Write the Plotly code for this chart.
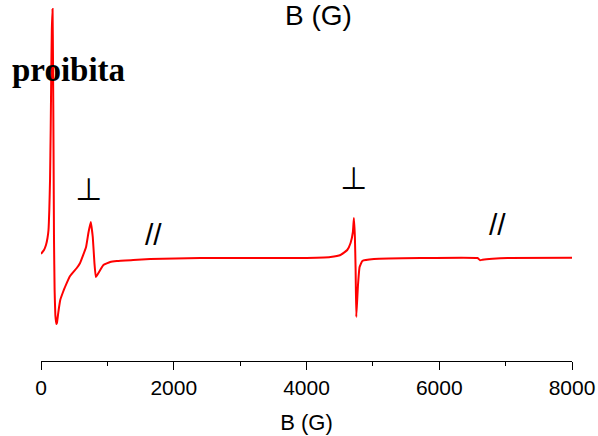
import plotly.graph_objects as go

# Magnetic field (G) and EPR signal (arbitrary units)
field = [0, 45, 75, 98, 113, 125, 136, 146, 155, 163, 174, 181, 189, 196, 205, 216,
         231, 240, 252, 268, 290, 332, 362, 438, 539, 589, 679, 714, 750, 780, 805, 826,
         865, 940, 1042, 1143, 1389, 1645, 2400, 3200, 3909, 4362, 4513, 4614, 4664,
         4699, 4714, 4729, 4740, 4750, 4774, 4800, 4841, 5016, 5721, 6577, 6616,
         6652, 6803, 7030, 8000]
signal = [4, 8, 13, 20, 28, 48, 78, 128, 188, 228, 249, 198, 108, 18, -32, -57,
          -66, -65, -59, -51, -42, -34, -29, -18, -10, -5, 11, 25, 36, 21, -5, -19,
          -15, -7, -4, -3, -2, -1, 0, 0, 0, 1, 3, 8, 15,
          26, 40, 21, -12, -59, -29, -9, -3, -1, 0, 0, -2.3,
          -1.7, -0.7, 0, 0.3]

x_ticks = [0, 2000, 4000, 6000, 8000]
x_title = "B (G)"
labels = ["proibita", "⊥", "⊥", "//", "//"]

W, H = 598, 436
L, R, T, B = 41, 26, 0, 75
pw, ph = W - L - R, H - T - B


def px(x, y):
    return (x - L) / pw, (H - B - y) / ph


fig = go.Figure()
fig.add_trace(go.Scatter(x=field, y=signal, mode="lines",
                         line=dict(color="#ff0000", width=2, shape="spline", smoothing=0.3),
                         showlegend=False))

ann = []
specs = [
    (labels[0], 68, 70, dict(family="Liberation Serif, Times New Roman, serif", size=33, color="black"), "<b>{}</b>"),
    (labels[1], 88.7, 189, dict(family="DejaVu Sans", size=31, color="black"), "{}"),
    (labels[2], 353.3, 178, dict(family="DejaVu Sans", size=31, color="black"), "{}"),
    (labels[3], 153, 234, dict(family="Liberation Sans, Arial", size=30, color="black"), "{}"),
    (labels[4], 497, 224, dict(family="Liberation Sans, Arial", size=30, color="black"), "{}"),
]
for txt, x, y, f, fmt in specs:
    ax, ay = px(x, y)
    ann.append(dict(text=fmt.format(txt), x=ax, y=ay, xref="paper", yref="paper",
                    showarrow=False, xanchor="center", yanchor="middle", font=f))
# mirrored top axis title (partly cut at the top edge)
tx, ty = px(318, 15)
ann.append(dict(text=x_title, x=tx, y=ty, xref="paper", yref="paper", showarrow=False,
                xanchor="center", yanchor="middle",
                font=dict(family="Liberation Sans, Arial", size=28, color="black")))

fig.update_layout(
    width=W, height=H,
    margin=dict(l=L, r=R, t=T, b=B),
    paper_bgcolor="white", plot_bgcolor="white",
    font=dict(family="Liberation Sans, Arial", color="black"),
    annotations=ann,
    xaxis=dict(range=[0, 8000], tickvals=x_ticks, ticktext=[str(v) for v in x_ticks],
               showline=True, linecolor="black", linewidth=1, mirror=False,
               ticks="outside", ticklen=8, tickwidth=1, tickcolor="black",
               minor=dict(dtick=1000, ticks="outside", ticklen=4, tickwidth=1, tickcolor="black", showgrid=False),
               showgrid=False, zeroline=False,
               tickfont=dict(size=21, family="Liberation Sans, Arial", color="black"),
               title=dict(text=x_title, font=dict(size=22, family="Liberation Sans, Arial", color="black"), standoff=16)),
    yaxis=dict(visible=False, range=[-103, 258], showgrid=False, zeroline=False),
)

fig.write_html("out.html")
